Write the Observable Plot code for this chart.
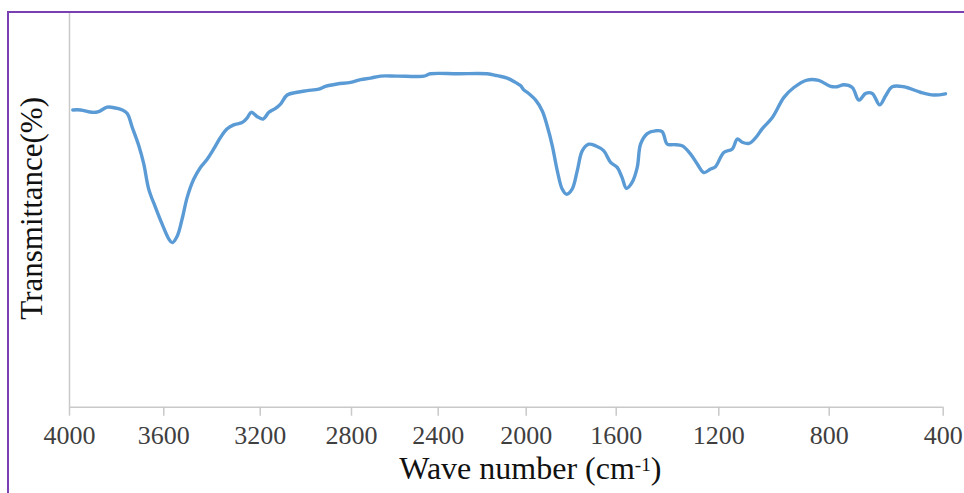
<!DOCTYPE html>
<html>
<head>
<meta charset="utf-8">
<script src="https://cdn.jsdelivr.net/npm/d3@7"></script>
<script src="https://cdn.jsdelivr.net/npm/@observablehq/plot@0.6"></script>
<style>
  html, body { margin: 0; padding: 0; background: #fff; overflow: hidden; }
  #wrap { position: relative; width: 964px; height: 493px; overflow: hidden; }
  #border { position: absolute; left: 7px; top: 11px; width: 1200px; height: 800px;
            border-top: 2px solid #7a3fb0; border-left: 2px solid #7a3fb0; pointer-events: none; }
  #chart { position: absolute; left: 0; top: 0; }
</style>
</head>
<body>
<div id="wrap"><div id="chart"></div><div id="border"></div></div>
<script>
// Wave number (cm-1) and transmittance (%)
const waveNumber = [3986, 3953, 3904, 3876, 3840, 3805, 3776, 3755, 3734, 3706, 3685, 3664, 3635, 3607,
  3579, 3565, 3544, 3524, 3503, 3476, 3448, 3420, 3393, 3365, 3337, 3310, 3275, 3254, 3237, 3212,
  3187, 3162, 3133, 3111, 3082, 3038, 2994, 2943, 2914, 2863, 2804,
  2758, 2712, 2666, 2589, 2466, 2436,
  2314, 2177, 2132, 2086, 2049, 2026, 2011,
  1996, 1958, 1929, 1907, 1884, 1862, 1840, 1821, 1796, 1773, 1751, 1722, 1692, 1655, 1625,
  1596, 1577, 1560, 1538, 1518, 1505, 1479, 1447, 1421, 1401, 1375, 1343, 1310, 1284, 1258, 1232, 1213,
  1182, 1151, 1133, 1115, 1091, 1067, 1043, 1006, 964, 928, 880, 838,
  795, 772, 749, 719, 696, 672, 649, 623, 602, 579, 538, 480, 433, 392];
const transmittance = [75.5, 75.5, 74.9, 75.1, 76.2, 76.0, 75.5, 74.6, 71.1, 66.4, 61.8, 55.4, 50.7, 46.5,
  42.7, 41.8, 43.5, 47.8, 53.3, 57.9, 60.9, 63.0, 65.6, 68.5, 70.7, 71.7, 72.3, 73.5, 74.9, 73.8,
  73.2, 74.9, 75.9, 77.0, 79.3, 80.0, 80.4, 80.8, 81.5, 82.1, 82.5,
  83.2, 83.6, 84.1, 84.1, 84.1, 84.7,
  84.7, 84.7, 84.2, 83.6, 82.5, 81.7, 80.6,
  80.0, 78.0, 75.3, 71.5, 66.4, 60.1, 55.4, 54.1, 55.4, 60.1, 65.1, 66.8, 66.4, 65.1, 62.2,
  60.9, 58.3, 55.6, 57.1, 60.9, 66.8, 69.5, 70.2, 70.0, 66.8, 66.7, 66.4, 64.3, 61.8, 59.6, 60.5, 61.1,
  64.7, 65.6, 68.1, 67.3, 67.0, 68.4, 70.7, 73.6, 78.7, 81.2, 83.1, 83.0,
  81.5, 81.4, 81.9, 81.2, 78.0, 79.7, 79.7, 76.8, 79.1, 81.4, 81.4, 80.0, 79.3, 79.6];
const xTicks = [4000, 3600, 3200, 2800, 2400, 2000, 1600, 1200, 800, 400];
const xTitle = "Wave number (cm-1)";
const yTitle = "Transmittance(%)";

const data = waveNumber.map((w, i) => ({w, t: transmittance[i]}));

// The reference uses a category-style axis with unevenly spaced ticks -> piecewise linear x scale
const xRange = [69, 163.3, 259.7, 351, 437.7, 525.7, 615.7, 718.3, 828.7, 942.7];

const chart = Plot.plot({
  width: 964,
  height: 493,
  marginLeft: 69,
  marginRight: 964 - 942.7,
  marginTop: 13,
  marginBottom: 493 - 406.7,
  style: {fontFamily: "'Liberation Serif', 'Times New Roman', serif", background: "transparent"},
  x: {type: "linear", domain: xTicks, range: xRange, axis: null},
  y: {type: "linear", domain: [0, 100], axis: null},
  marks: [
    Plot.ruleY([0], {stroke: "#c9c9c9", strokeWidth: 1.5}),
    Plot.ruleX([4000], {stroke: "#c9c9c9", strokeWidth: 1.5}),
    Plot.axisX(xTicks, {anchor: "bottom", tickSize: 9, tickPadding: 9, stroke: "#c9c9c9", strokeWidth: 1.5,
      fill: "#3f3f3f", fontSize: 26, tickFormat: d => String(d), label: null}),
    Plot.line(data, {x: "w", y: "t", stroke: "#5b9bd5", strokeWidth: 3.4, curve: "catmull-rom",
      strokeLinejoin: "round", strokeLinecap: "round"}),
    Plot.text([xTitle], {frameAnchor: "bottom", dx: 24, dy: 72, text: d => d, fontSize: 32, fill: "#111"}),
    Plot.text([yTitle], {frameAnchor: "left", textAnchor: "middle", dx: -37, dy: -2, rotate: -90,
      text: d => d, fontSize: 31, fill: "#111"})
  ]
});
document.getElementById("chart").appendChild(chart);

// render the "-1" of the unit as a superscript
d3.select(chart).selectAll("text").filter(function() { return this.textContent === xTitle; })
  .each(function() {
    const t = d3.select(this);
    t.text(null);
    t.append("tspan").text("Wave number (cm");
    t.append("tspan").attr("dy", "-0.45em").attr("font-size", "0.6em").text("-1");
    t.append("tspan").attr("dy", "0.27em").text(")");
  });
</script>
</body>
</html>
